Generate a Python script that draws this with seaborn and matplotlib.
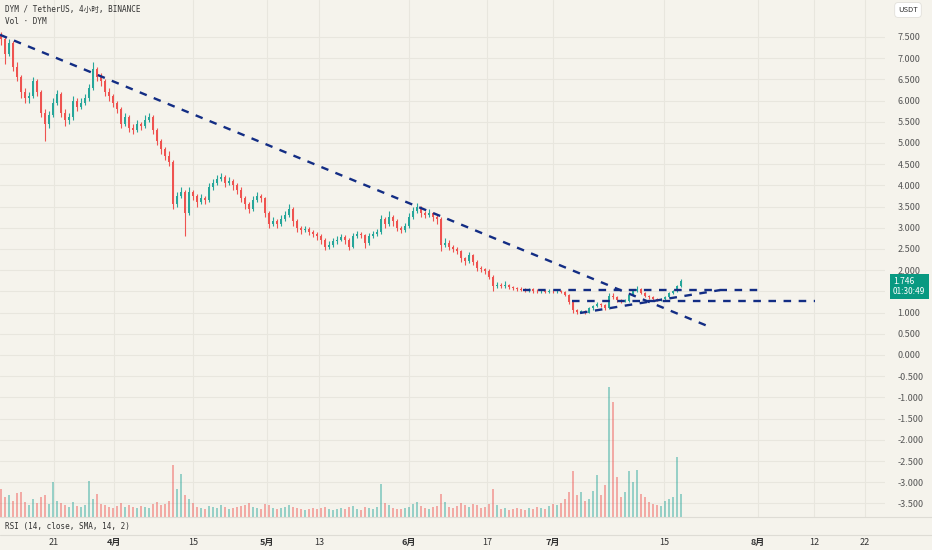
import numpy as np
import matplotlib
matplotlib.use('Agg')
import matplotlib.pyplot as plt
import seaborn as sns
from matplotlib.lines import Line2D

# ---------------------------------------------------------------------------
# data read off the chart (4h candles, sampled)
first_open = 7.55
closes = [
    7.45, 7.10, 7.35, 6.80, 6.55, 6.20, 6.05, 6.10, 6.45, 6.20,
    5.70, 5.45, 5.65, 5.95, 6.15, 5.70, 5.55, 5.60, 6.00, 5.85,
    5.95, 6.05, 6.30, 6.75, 6.55, 6.45, 6.20, 6.10, 5.95, 5.80,
    5.45, 5.60, 5.35, 5.30, 5.45, 5.40, 5.55, 5.60, 5.30, 5.05,
    4.85, 4.70, 4.55, 3.55, 3.75, 3.85, 3.35, 3.85, 3.75, 3.60,
    3.70, 3.65, 3.95, 4.05, 4.15, 4.20, 4.05, 4.10, 4.00, 3.90,
    3.70, 3.55, 3.45, 3.65, 3.75, 3.70, 3.35, 3.10, 3.15, 3.10,
    3.20, 3.30, 3.45, 3.15, 3.00, 2.95, 2.98, 2.90, 2.85, 2.80,
    2.70, 2.55, 2.60, 2.68, 2.72, 2.78, 2.70, 2.55, 2.80, 2.85,
    2.82, 2.65, 2.80, 2.85, 2.90, 3.20, 3.10, 3.25, 3.15, 3.00,
    2.95, 3.05, 3.25, 3.40, 3.50, 3.35, 3.30, 3.35, 3.25, 3.20,
    2.60, 2.65, 2.55, 2.50, 2.45, 2.28, 2.22, 2.35, 2.20, 2.05,
    2.02, 1.98, 1.85, 1.62, 1.65, 1.62, 1.66, 1.60, 1.58, 1.56,
    1.54, 1.52, 1.55, 1.51, 1.50, 1.52, 1.49, 1.51, 1.50, 1.52,
    1.49, 1.42, 1.25, 1.05, 1.02, 1.03, 1.00, 1.10, 1.15, 1.20,
    1.18, 1.10, 1.40, 1.36, 1.30, 1.27, 1.28, 1.42, 1.52, 1.56,
    1.47, 1.40, 1.36, 1.33, 1.30, 1.32, 1.37, 1.45, 1.50, 1.62,
    1.746,
]
highs = [
    7.62, 7.50, 7.45, 7.40, 6.90, 6.60, 6.30, 6.20, 6.55, 6.50,
    6.25, 5.80, 5.75, 6.05, 6.25, 6.20, 5.80, 5.70, 6.10, 6.05,
    6.05, 6.15, 6.40, 6.90, 6.80, 6.65, 6.50, 6.30, 6.15, 6.00,
    5.85, 5.70, 5.65, 5.45, 5.55, 5.50, 5.65, 5.70, 5.65, 5.35,
    5.10, 4.90, 4.80, 4.60, 3.85, 3.95, 3.90, 3.95, 3.90, 3.80,
    3.80, 3.75, 4.05, 4.15, 4.25, 4.30, 4.25, 4.20, 4.15, 4.05,
    3.95, 3.75, 3.60, 3.75, 3.85, 3.80, 3.72, 3.40, 3.25, 3.20,
    3.30, 3.40, 3.55, 3.50, 3.20, 3.05, 3.05, 3.02, 2.95, 2.90,
    2.85, 2.75, 2.68, 2.75, 2.80, 2.85, 2.82, 2.75, 2.88, 2.92,
    2.90, 2.85, 2.88, 2.92, 2.98, 3.30, 3.25, 3.40, 3.30, 3.20,
    3.05, 3.12, 3.35, 3.48, 3.58, 3.52, 3.40, 3.45, 3.38, 3.30,
    3.25, 2.75, 2.70, 2.60, 2.55, 2.48, 2.32, 2.42, 2.38, 2.25,
    2.10, 2.06, 2.02, 1.88, 1.72, 1.70, 1.74, 1.68, 1.63, 1.61,
    1.60, 1.58, 1.59, 1.57, 1.55, 1.56, 1.54, 1.55, 1.54, 1.56,
    1.54, 1.51, 1.44, 1.28, 1.08, 1.07, 1.06, 1.13, 1.18, 1.24,
    1.23, 1.20, 1.46, 1.45, 1.38, 1.32, 1.31, 1.46, 1.56, 1.62,
    1.58, 1.49, 1.42, 1.38, 1.35, 1.35, 1.40, 1.49, 1.54, 1.66,
    1.78,
]
lows = [
    7.30, 6.85, 7.05, 6.70, 6.45, 6.05, 5.95, 5.95, 6.05, 6.10,
    5.60, 5.05, 5.35, 5.60, 5.90, 5.60, 5.40, 5.45, 5.55, 5.75,
    5.80, 5.90, 6.00, 6.25, 6.45, 6.35, 6.10, 6.00, 5.85, 5.70,
    5.35, 5.40, 5.25, 5.20, 5.25, 5.30, 5.35, 5.50, 5.20, 4.95,
    4.75, 4.60, 4.45, 3.45, 3.50, 3.70, 2.80, 3.30, 3.65, 3.50,
    3.55, 3.55, 3.60, 3.90, 4.00, 4.10, 3.95, 4.00, 3.90, 3.80,
    3.60, 3.45, 3.35, 3.40, 3.60, 3.60, 3.25, 3.00, 3.05, 3.00,
    3.05, 3.15, 3.25, 3.05, 2.90, 2.85, 2.90, 2.82, 2.78, 2.72,
    2.62, 2.48, 2.50, 2.55, 2.62, 2.68, 2.62, 2.48, 2.52, 2.75,
    2.75, 2.52, 2.60, 2.75, 2.80, 2.85, 3.00, 3.05, 3.05, 2.92,
    2.88, 2.90, 3.00, 3.20, 3.35, 3.25, 3.22, 3.25, 3.15, 3.10,
    2.45, 2.55, 2.48, 2.42, 2.38, 2.20, 2.12, 2.18, 2.12, 1.98,
    1.95, 1.90, 1.78, 1.52, 1.58, 1.57, 1.58, 1.55, 1.54, 1.52,
    1.50, 1.48, 1.49, 1.47, 1.46, 1.47, 1.45, 1.46, 1.46, 1.47,
    1.45, 1.38, 1.20, 0.98, 0.97, 0.98, 0.96, 0.98, 1.07, 1.12,
    1.13, 1.06, 1.08, 1.32, 1.26, 1.23, 1.24, 1.26, 1.40, 1.49,
    1.44, 1.37, 1.33, 1.30, 1.28, 1.28, 1.30, 1.35, 1.43, 1.48,
    1.60,
]
volumes = [  # millions DYM
    2.8, 2.0, 2.2, 1.6, 2.4, 2.5, 1.5, 1.2, 1.8, 1.4,
    2.0, 2.2, 1.3, 3.5, 1.6, 1.4, 1.2, 1.0, 1.5, 1.1,
    1.0, 1.2, 3.6, 1.8, 2.3, 1.3, 1.2, 1.0, 0.9, 1.1,
    1.4, 1.0, 1.2, 1.0, 0.9, 1.1, 1.0, 0.9, 1.3, 1.5,
    1.2, 1.3, 1.6, 5.2, 2.8, 4.3, 2.2, 1.8, 1.4, 1.0,
    0.9, 0.8, 1.1, 1.0, 0.9, 1.2, 1.0, 0.8, 0.9, 1.0,
    1.1, 1.2, 1.4, 1.0, 0.9, 0.8, 1.3, 1.2, 0.9, 0.8,
    0.9, 1.0, 1.2, 1.0, 0.9, 0.8, 0.7, 0.8, 0.9, 0.8,
    0.9, 1.0, 0.8, 0.7, 0.8, 0.9, 0.8, 1.0, 1.1, 0.8,
    0.7, 1.0, 0.9, 0.8, 1.0, 3.3, 1.4, 1.2, 0.9, 0.8,
    0.8, 0.9, 1.0, 1.3, 1.5, 1.1, 0.9, 0.8, 1.0, 1.1,
    2.3, 1.5, 1.0, 0.9, 1.1, 1.4, 1.2, 1.0, 1.3, 1.2,
    0.9, 1.0, 1.3, 2.8, 1.2, 0.8, 0.9, 0.7, 0.8, 0.9,
    0.8, 0.7, 0.9, 0.8, 1.0, 0.9, 0.8, 1.1, 1.3, 1.2,
    1.4, 1.8, 2.5, 4.6, 2.2, 2.5, 1.6, 1.8, 2.6, 4.2,
    2.2, 3.2, 13.0, 11.5, 4.0, 2.0, 2.5, 4.6, 3.5, 4.7,
    2.3, 2.0, 1.5, 1.3, 1.2, 1.1, 1.6, 1.8, 2.0, 6.0,
    2.3,
]

# time axis labels (positions in bar index)
tick_pos = [13.25, 28.25, 48.0, 66.5, 79.5, 102.0, 121.5, 138.0, 165.75, 189.25, 203.25, 216.0]
tick_labels = ['21', '4月', '15', '5月', '13', '6月', '17', '7月', '15', '8月', '12', '22']

# drawn trend lines: (x0, y0, x1, y1)
trend_down = (-0.25, 7.55, 177.75, 0.64)
level_upper = (130.5, 1.53, 189.25, 1.53)
level_lower = (142.75, 1.27, 203.5, 1.27)
trend_up = (144.75, 0.99, 179.75, 1.53)

last_price = 1.746
countdown = '01:30:49'

# ---------------------------------------------------------------------------
BG = '#f5f3ec'
GRID = '#e8e6de'
UP = '#26a69a'
DOWN = '#ef5350'
NAVY = '#132d84'

sns.set_theme(style='white')
plt.rcParams['font.family'] = ['Noto Sans CJK SC', 'DejaVu Sans']
MONO = ['DejaVu Sans Mono', 'Noto Sans CJK SC']

fig = plt.figure(figsize=(9.32, 5.5), dpi=100, facecolor=BG)
ax = fig.add_axes([0, 0.06, 885 / 932, 0.94], facecolor=BG)
ax_vol = ax.twinx()  # drawn above the grid of ax, patch transparent

closes = np.array(closes)
opens = np.concatenate([[first_open], closes[:-1]])
x = np.arange(len(closes))
rising = closes >= opens
cols = np.where(rising, UP, DOWN)

# volume
ax_vol.bar(x, volumes, width=0.6, color=cols, alpha=0.45, linewidth=0)
ax_vol.set_ylim(0, 51.7)
ax_vol.set_yticks([])
for s in ax_vol.spines.values():
    s.set_visible(False)

# candles
ax.vlines(x, lows, highs, colors=cols, linewidth=0.8, zorder=3)
body = np.maximum(np.abs(closes - opens), 0.012)
ax.bar(x, body, bottom=np.minimum(opens, closes), width=0.7, color=cols, linewidth=0, zorder=4)

# trend lines
for x0, y0, x1, y1 in [trend_down, level_upper, level_lower, trend_up]:
    sns.lineplot(x=[x0, x1], y=[y0, y1], ax=ax, color=NAVY, linewidth=1.7,
                 linestyle=(0, (3.2, 3.2)), zorder=5)

ax.set_xlim(-0.25, 221)
ax.set_ylim(-3.82, 8.37)

yt = np.arange(-3.5, 7.51, 0.5)
# the 1.500 label sits under the last-price tag
ylabels = ['' if abs(v - 1.5) < 1e-9 else f'{v:.3f}' for v in yt]
ax.yaxis.tick_right()
ax.set_yticks(yt)
ax.set_yticklabels(ylabels, fontsize=6.5, color='#555555')
ax.tick_params(axis='y', length=0, pad=9)
ax.set_xticks(tick_pos)
ax.set_xticklabels(tick_labels, fontsize=6.5, color='#333333')
ax.tick_params(axis='x', length=0, pad=15)
for lbl in ax.get_xticklabels():
    if '月' in lbl.get_text():
        lbl.set_fontweight('bold')
ax.grid(True, color=GRID, linewidth=0.8)
ax.set_axisbelow(True)
for s in ax.spines.values():
    s.set_visible(False)
ax.set_xlabel('')
ax.set_ylabel('')

# pane separators
for yf in [0.06, 15 / 550]:
    fig.add_artist(Line2D([0, 1], [yf, yf], transform=fig.transFigure, color='#dedcd5', linewidth=0.8))

# texts
fig.text(5 / 932, 1 - 9 / 550, 'DYM / TetherUS, 4小时, BINANCE', fontsize=5.5, color='#333333',
         va='center', family=MONO)
fig.text(5 / 932, 1 - 21 / 550, 'Vol · DYM', fontsize=5.5, color='#333333', va='center', family=MONO)
fig.text(5 / 932, 1 - 526 / 550, 'RSI (14, close, SMA, 14, 2)', fontsize=5.5, color='#333333',
         va='center', family=MONO)
fig.text(908 / 932, 1 - 10 / 550, 'USDT', fontsize=5.5, color='#333333', ha='center', va='center',
         bbox=dict(boxstyle='round,pad=0.45', fc='white', ec='#e2e0da', lw=0.6))

ax.annotate(f'{last_price:.3f}\n{countdown}', xy=(893 / 932, last_price - 0.13),
            xycoords=('figure fraction', 'data'), ha='left', va='center', fontsize=6,
            color='white', linespacing=1.1, annotation_clip=False,
            bbox=dict(boxstyle='square,pad=0.4', fc='#089981', ec='none'))

fig.savefig('out.png', dpi=100, facecolor=BG)
